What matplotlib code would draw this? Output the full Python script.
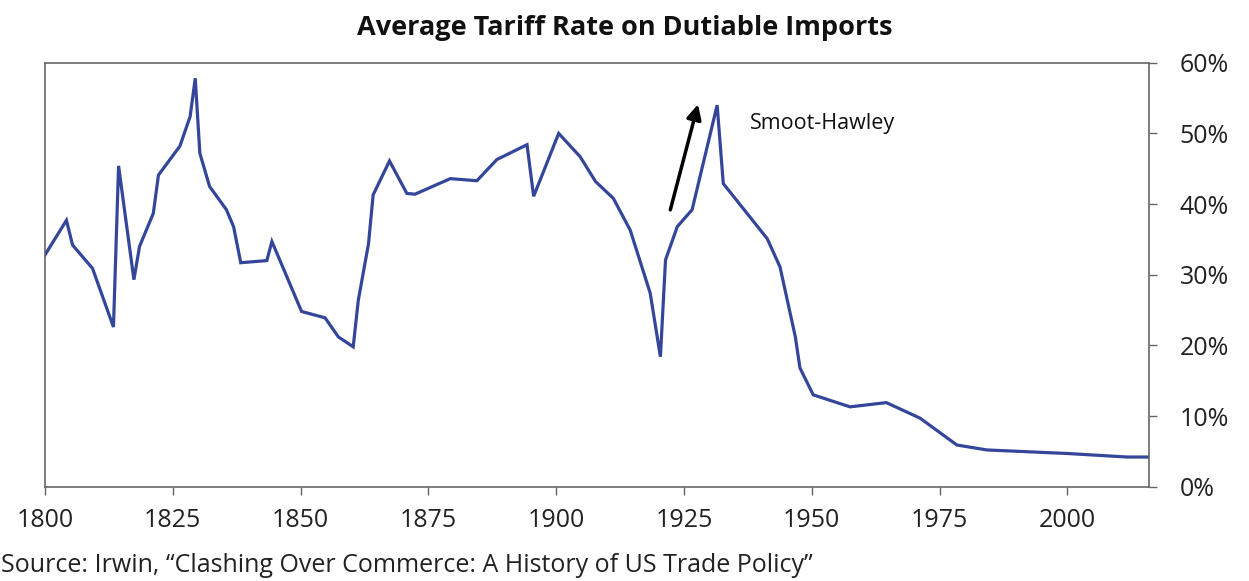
import matplotlib.pyplot as plt
from matplotlib.ticker import FuncFormatter

# data (year, average tariff rate in %)
years = [1800, 1804.2, 1805.4, 1809.3, 1813.4, 1814.4, 1817.4, 1818.5, 1821.2, 1822.2,
         1826.4, 1828.4, 1829.4, 1830.3, 1832.2, 1835.5, 1836.9, 1838.3, 1843.4, 1844.4,
         1850.2, 1854.8, 1857.4, 1860.3, 1861.3, 1863.3, 1864.2, 1867.4, 1870.8, 1872.4,
         1879.3, 1884.5, 1888.4, 1894.3, 1895.6, 1900.5, 1904.7, 1907.7, 1911.2, 1914.5,
         1918.4, 1920.4, 1921.4, 1923.7, 1926.6, 1931.5, 1932.7, 1941.3, 1943.8, 1946.8,
         1947.7, 1950.3, 1957.5, 1964.6, 1971.2, 1978.4, 1984.3, 2000, 2011.7, 2016]
rates = [32.8, 37.7, 34.2, 30.9, 22.6, 45.4, 29.3, 34.0, 38.7, 44.1,
         48.2, 52.4, 57.8, 47.2, 42.5, 39.2, 36.8, 31.7, 32.0, 34.7,
         24.8, 23.9, 21.2, 19.8, 26.4, 34.4, 41.3, 46.1, 41.5, 41.4,
         43.6, 43.3, 46.3, 48.4, 41.1, 50.0, 46.7, 43.2, 40.8, 36.3,
         27.4, 18.4, 32.1, 36.8, 39.2, 54.0, 42.9, 35.1, 31.1, 21.2,
         16.8, 13.0, 11.3, 11.9, 9.7, 5.9, 5.2, 4.7, 4.2, 4.2]

x_ticks = [1800, 1825, 1850, 1875, 1900, 1925, 1950, 1975, 2000]
y_ticks = [0, 10, 20, 30, 40, 50, 60]

plt.rcParams['font.family'] = ['Open Sans', 'DejaVu Sans']

fig = plt.figure(figsize=(12.49, 5.81), dpi=100)
ax = fig.add_axes([0.036, 0.1623, 0.884, 0.7297])

ax.plot(years, rates, color='#34469a', linewidth=2.3, solid_joinstyle='miter')

ax.set_xlim(1800, 2016)
ax.set_ylim(0, 60)
ax.set_xticks(x_ticks)
ax.set_yticks(y_ticks)
ax.yaxis.tick_right()
ax.yaxis.set_major_formatter(FuncFormatter(lambda v, p: f"{v:.0f}%"))
ax.tick_params(axis='both', direction='out', length=6, width=1, color='#666666',
               labelsize=18, labelcolor='#222222')
ax.tick_params(axis='x', pad=9)
ax.tick_params(axis='y', pad=16)
for s in ax.spines.values():
    s.set_color('#666666')
    s.set_linewidth(1.2)

# Smoot-Hawley arrow and label
ax.annotate('', xy=(1927.9, 54.5), xytext=(1922.2, 38.8),
            arrowprops=dict(arrowstyle='-|>', color='black', lw=2.5, mutation_scale=22))
ax.text(1937.9, 51.4, 'Smoot-Hawley', fontsize=15.5, va='center', ha='left', color='#111111')

fig.text(0.5, 0.951, 'Average Tariff Rate on Dutiable Imports', ha='center', va='center',
         fontsize=19.5, fontweight='bold', color='#111111')
fig.text(0.001, 0.026, 'Source: Irwin, \u201cClashing Over Commerce: A History of US Trade Policy\u201d',
         ha='left', va='center', fontsize=18, color='#222222')

fig.savefig('out.png', dpi=100)
